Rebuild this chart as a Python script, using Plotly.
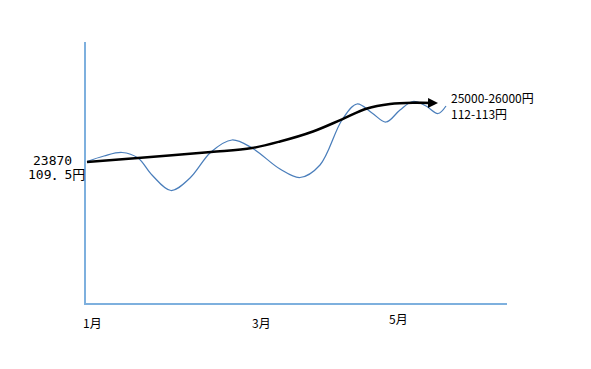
import plotly.graph_objects as go

# --- data (chart units: x along time axis, y = price level) ---
wave_x = [1, 18, 36, 52, 66, 85, 104, 125, 146, 166, 194, 214, 234, 256, 271, 286, 300, 314, 327, 340, 352, 360]
wave_y = [141.5, 147, 150.5, 145, 128, 112.5, 125, 151, 163, 155, 134, 125.5, 138, 183, 199, 190, 181, 193, 201.5, 197, 189.5, 197]

trend_x = [1, 52, 125, 166, 194, 227, 256, 281, 304, 327, 345]
trend_y = [141, 145, 151, 155, 161.5, 171.5, 183.7, 194.5, 199, 200.3, 200]

month_labels = ["1月", "3月", "5月"]
start_labels = ["23870", "109．5円"]
target_labels = ["25000-26000円", "112-113円"]

W, H = 591, 369
ML, MR, MT, MB = 86, 84, 42, 66
PW, PH = W - ML - MR, H - MT - MB
axis_color = "#7eb0de"


def px(x):
    return (x - ML) / PW


def py(y):
    return (H - MB - y) / PH


fig = go.Figure()
fig.add_trace(go.Scatter(x=wave_x, y=wave_y, mode="lines",
                         line=dict(color="#4a7ebb", width=1.25, shape="spline", smoothing=1.0),
                         hoverinfo="skip"))
fig.add_trace(go.Scatter(x=trend_x, y=trend_y, mode="lines",
                         line=dict(color="#000000", width=2.5, shape="spline", smoothing=1.0),
                         hoverinfo="skip"))

# arrow head at end of trend
fig.add_annotation(x=352, y=200, ax=trend_x[-2], ay=trend_y[-2], xref="x", yref="y",
                   axref="x", ayref="y", showarrow=True, arrowhead=2, arrowsize=1,
                   arrowwidth=2, arrowcolor="#000000", text="")

mono = dict(family="DejaVu Sans Mono, Noto Sans CJK JP", size=13, color="#000")
sans = dict(family="Noto Sans CJK JP", size=12, color="#000")

fig.add_annotation(x=px(73), y=py(160), xref="paper", yref="paper", text=start_labels[0],
                   showarrow=False, xanchor="right", yanchor="middle", font=mono, borderpad=0)
fig.add_annotation(x=px(86), y=py(174.5), xref="paper", yref="paper", text=start_labels[1],
                   showarrow=False, xanchor="right", yanchor="middle", font=mono, borderpad=0)

fig.add_annotation(x=px(449), y=py(105), xref="paper", yref="paper",
                   text="<br>".join(target_labels), align="left",
                   showarrow=False, xanchor="left", yanchor="middle", font=sans)

for lab, (cx, cy) in zip(month_labels, [(92, 322), (261, 322), (398, 318)]):
    fig.add_annotation(x=px(cx), y=py(cy), xref="paper", yref="paper", text=lab,
                       showarrow=False, xanchor="center", yanchor="middle", font=sans)

fig.update_layout(
    width=W, height=H,
    margin=dict(l=ML, r=MR, t=MT, b=MB),
    paper_bgcolor="white", plot_bgcolor="white",
    showlegend=False,
    xaxis=dict(range=[0, PW], showgrid=False, zeroline=False, showticklabels=False,
               showline=True, linecolor=axis_color, linewidth=1.5, mirror=False, fixedrange=True),
    yaxis=dict(range=[0, PH], showgrid=False, zeroline=False, showticklabels=False,
               showline=True, linecolor=axis_color, linewidth=1.5, mirror=False, fixedrange=True),
)

fig.write_html("out.html", config={"displayModeBar": False},
               post_script="document.body.style.margin='0';")
